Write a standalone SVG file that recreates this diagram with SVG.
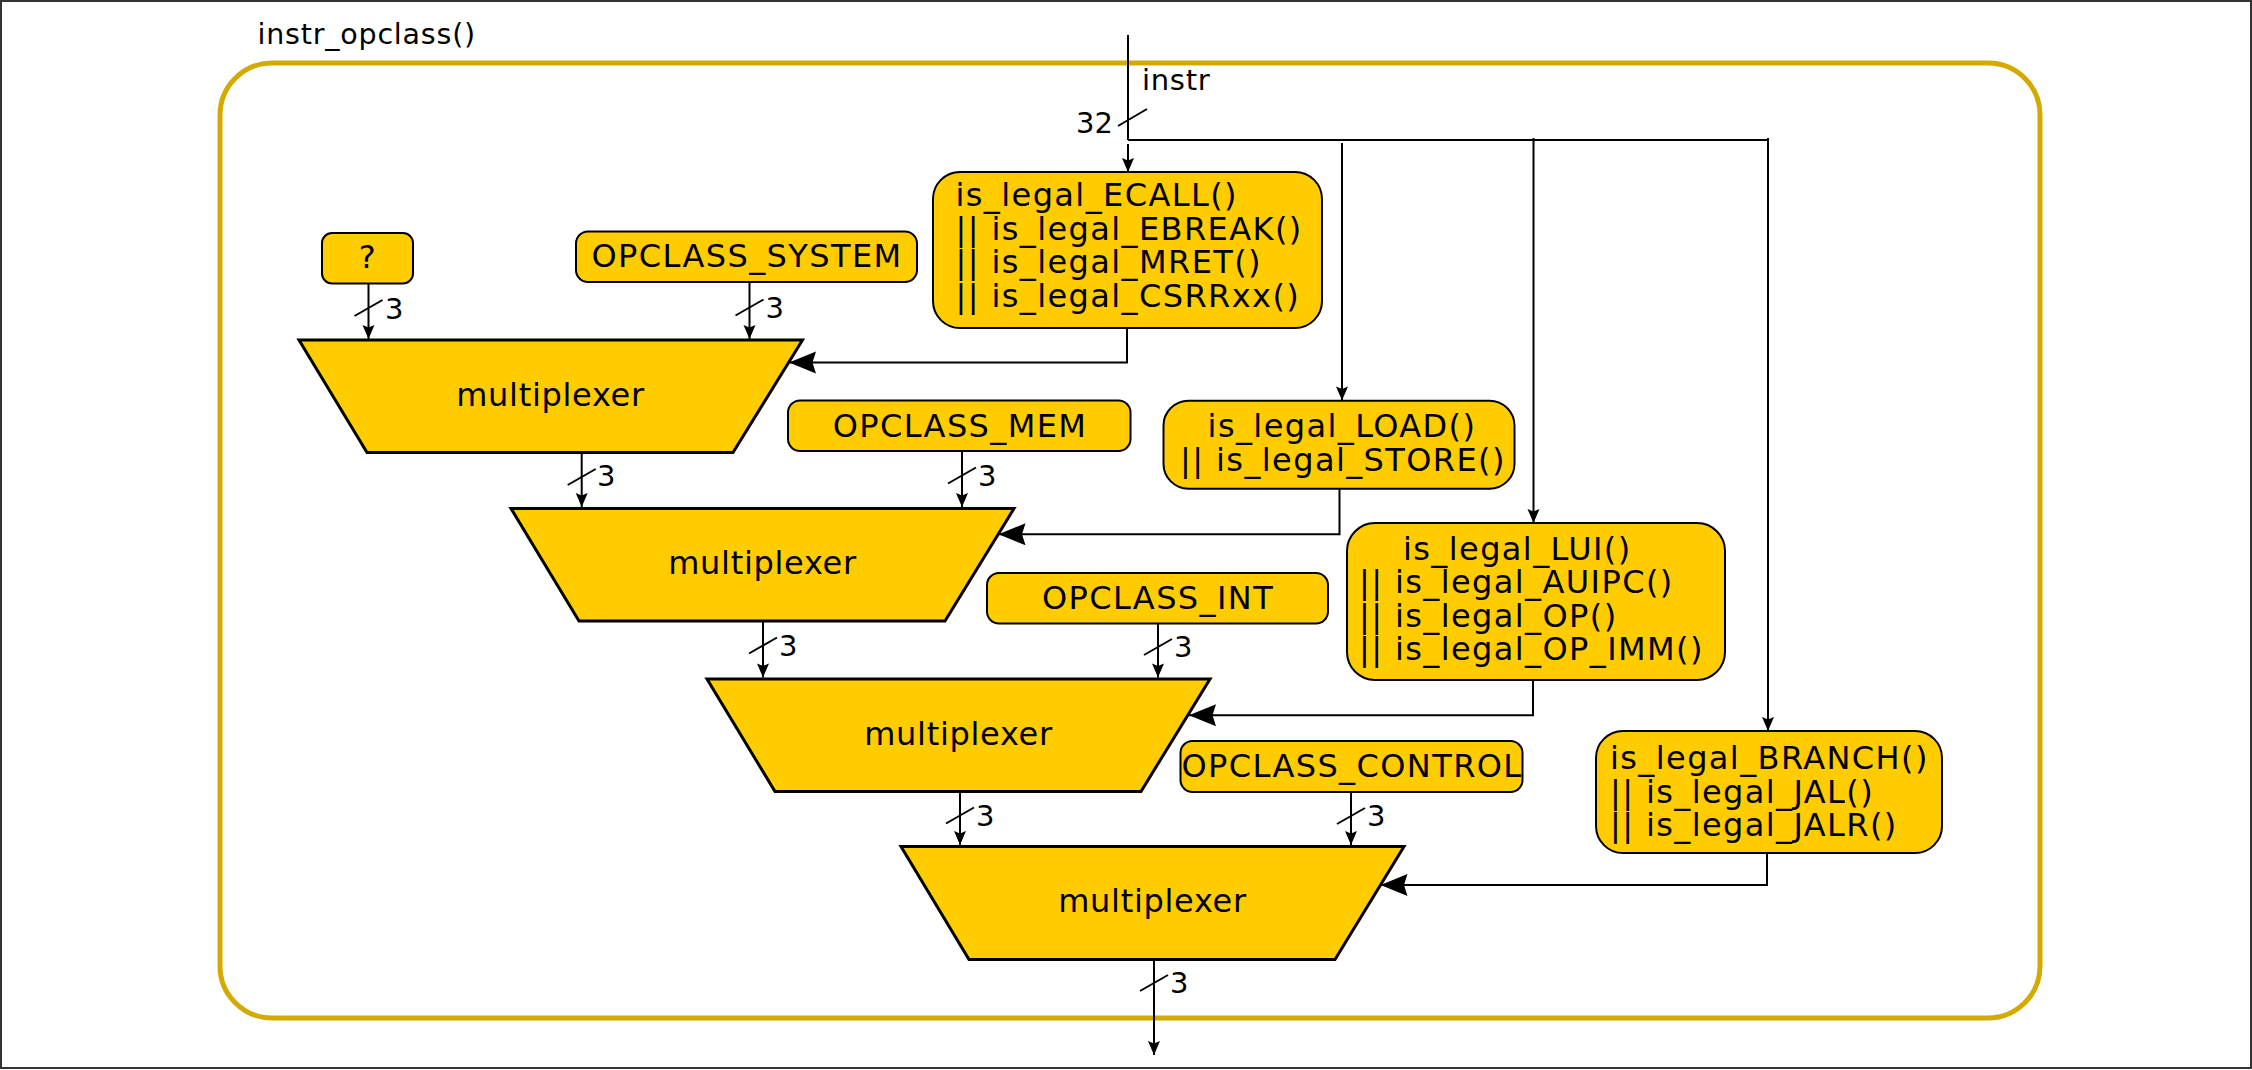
<svg xmlns="http://www.w3.org/2000/svg" width="2252" height="1070" viewBox="0 0 2252 1070">
<style>
text{font-family:"DejaVu Sans","Liberation Sans",sans-serif;fill:#000}
.lbl{font-size:32px;letter-spacing:1.4px}
.mux{font-size:32px;letter-spacing:0.7px}
.small{font-size:29px}
.box{fill:#FFCC00;stroke:#000;stroke-width:2}
.trap{fill:#FFCC00;stroke:#000;stroke-width:3}
.e{fill:none;stroke:#000;stroke-width:2}
.a{marker-end:url(#sa)}
.b{marker-end:url(#ba)}
</style>
<defs>
<marker id="sa" markerUnits="userSpaceOnUse" markerWidth="16" markerHeight="14" refX="14" refY="6" orient="auto" overflow="visible">
<path d="M14,6 L0,0 L2.5,6 L0,12 Z" fill="#000"/>
</marker>
<marker id="ba" markerUnits="userSpaceOnUse" markerWidth="30" markerHeight="24" refX="27" refY="11" orient="auto" overflow="visible">
<path d="M27,11 L0,0 L3.5,11 L0,22 Z" fill="#000"/>
</marker>
</defs>
<rect x="0" y="0" width="2252" height="1070" fill="#fff"/>
<rect x="1" y="1" width="2250" height="1067" fill="none" stroke="#333" stroke-width="2"/>
<g id="container">
<rect x="220" y="63" width="1820" height="955" rx="52" ry="52" fill="none" stroke="#D4AA00" stroke-width="5"/>
<text x="257.5" y="43.8" style="font-size:28.5px;letter-spacing:0.8px">instr_opclass()</text>
</g>
<g id="connectors">
<path class="e" d="M1128,35 V140"/>
<path class="e" d="M1128,140 H1769"/>
<path class="e a" d="M1128,144 V172"/>
<path class="e a" d="M1342,143 V400.5"/>
<path class="e a" d="M1533.5,138 V523"/>
<path class="e a" d="M1768,138 V731"/>
<path class="e a" d="M368.5,283.5 V339"/>
<path class="e a" d="M749.5,282 V339"/>
<path class="e a" d="M581.7,453 V507"/>
<path class="e a" d="M962,451 V507"/>
<path class="e a" d="M763,621.5 V677.5"/>
<path class="e a" d="M1158,623.5 V677.5"/>
<path class="e a" d="M960,792 V845"/>
<path class="e a" d="M1351,792 V845"/>
<path class="e a" d="M1154,960 V1055"/>
<path class="e b" d="M1127,328 V362.5 H789"/>
<path class="e b" d="M1339.5,489 V534.3 H998.5"/>
<path class="e b" d="M1533,680 V715.3 H1189"/>
<path class="e b" d="M1767,853 V885 H1380.5"/>
<g class="e">
<line x1="1118" y1="126" x2="1147" y2="109"/>
<line x1="354.5" y1="316" x2="382.5" y2="300"/>
<line x1="735.5" y1="315.5" x2="763.5" y2="299.5"/>
<line x1="567.7" y1="485" x2="595.7" y2="469"/>
<line x1="948" y1="483.5" x2="976" y2="467.5"/>
<line x1="749" y1="653.5" x2="777" y2="637.5"/>
<line x1="1144" y1="655" x2="1172" y2="639"/>
<line x1="946" y1="823.5" x2="974" y2="807.5"/>
<line x1="1337" y1="824" x2="1365" y2="808"/>
<line x1="1140" y1="991" x2="1168" y2="975"/>
</g>
<g class="small">
<text x="1142" y="90" style="letter-spacing:0.7px">instr</text>
<text x="1113" y="133" text-anchor="end">32</text>
<text x="385" y="318.5">3</text>
<text x="765.5" y="318">3</text>
<text x="597" y="486">3</text>
<text x="978" y="486">3</text>
<text x="779" y="656">3</text>
<text x="1174" y="657">3</text>
<text x="976" y="826">3</text>
<text x="1367" y="826">3</text>
<text x="1170" y="993">3</text>
</g>
</g>
<g id="n_q">
<rect class="box" x="322" y="233" width="91" height="50.5" rx="10"/>
<text class="lbl" x="368" y="268" text-anchor="middle">?</text>
</g>
<g id="n_system">
<rect class="box" x="576" y="231.5" width="341" height="50.5" rx="12"/>
<text class="lbl" x="747" y="267" text-anchor="middle">OPCLASS_SYSTEM</text>
</g>
<g id="n_ecall">
<rect class="box" x="933" y="172" width="389" height="156" rx="27"/>
<text class="lbl" x="955.5" y="206.3">is_legal_ECALL()</text>
<text class="lbl" x="955.5" y="239.8">|| is_legal_EBREAK()</text>
<text class="lbl" x="955.5" y="273.3">|| is_legal_MRET()</text>
<text class="lbl" x="955.5" y="306.8">|| is_legal_CSRRxx()</text>
</g>
<g id="n_mux1">
<polygon class="trap" points="299,340 802.5,340 733,452.5 367,452.5"/>
<text class="mux" x="550.5" y="405.5" text-anchor="middle">multiplexer</text>
</g>
<g id="n_mem">
<rect class="box" x="788" y="400.5" width="342.5" height="50.5" rx="12"/>
<text class="lbl" x="960" y="436.5" text-anchor="middle">OPCLASS_MEM</text>
</g>
<g id="n_load">
<rect class="box" x="1163.5" y="400.7" width="351" height="88" rx="25"/>
<text class="lbl" x="1342" y="437" text-anchor="middle">is_legal_LOAD()</text>
<text class="lbl" x="1343" y="471" text-anchor="middle">|| is_legal_STORE()</text>
</g>
<g id="n_mux2">
<polygon class="trap" points="511,508.5 1014,508.5 945,621 579,621"/>
<text class="mux" x="762.5" y="574" text-anchor="middle">multiplexer</text>
</g>
<g id="n_int">
<rect class="box" x="987" y="573" width="341" height="50.5" rx="12"/>
<text class="lbl" x="1158" y="608.5" text-anchor="middle">OPCLASS_INT</text>
</g>
<g id="n_lui">
<rect class="box" x="1347" y="523" width="378" height="157" rx="28"/>
<text class="lbl" x="1403" y="559.5">is_legal_LUI()</text>
<text class="lbl" x="1359" y="593">|| is_legal_AUIPC()</text>
<text class="lbl" x="1359" y="626.5">|| is_legal_OP()</text>
<text class="lbl" x="1359" y="660">|| is_legal_OP_IMM()</text>
</g>
<g id="n_mux3">
<polygon class="trap" points="707,679 1210,679 1141,791.5 775,791.5"/>
<text class="mux" x="958.5" y="744.5" text-anchor="middle">multiplexer</text>
</g>
<g id="n_control">
<rect class="box" x="1180.5" y="741" width="342" height="51" rx="12"/>
<text class="lbl" x="1352" y="777" text-anchor="middle">OPCLASS_CONTROL</text>
</g>
<g id="n_branch">
<rect class="box" x="1596" y="731" width="346" height="122" rx="27"/>
<text class="lbl" x="1610" y="769">is_legal_BRANCH()</text>
<text class="lbl" x="1610" y="802.5">|| is_legal_JAL()</text>
<text class="lbl" x="1610" y="836">|| is_legal_JALR()</text>
</g>
<g id="n_mux4">
<polygon class="trap" points="901,846.5 1404,846.5 1335,959.5 969,959.5"/>
<text class="mux" x="1152.5" y="912" text-anchor="middle">multiplexer</text>
</g>
</svg>
